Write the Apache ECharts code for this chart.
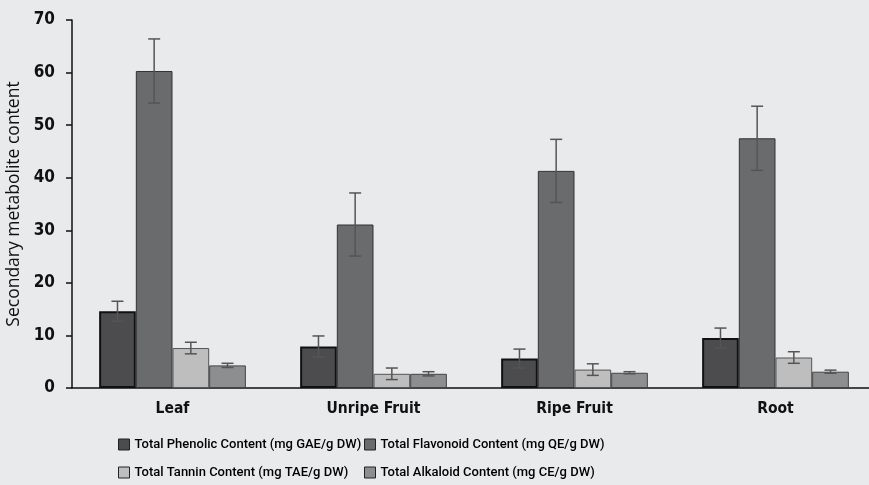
<!DOCTYPE html>
<html><head><meta charset="utf-8">
<script src="https://cdn.jsdelivr.net/npm/echarts@6/dist/echarts.min.js"></script>
<style>html,body{margin:0;padding:0;background:#e9eaec;}#c{width:869px;height:485px;}</style>
</head><body><div id="c"></div>
<script>
const categories = ['Leaf', 'Unripe Fruit', 'Ripe Fruit', 'Root'];
const seriesNames = ['Total Phenolic Content (mg GAE/g DW)', 'Total Flavonoid Content (mg QE/g DW)', 'Total Tannin Content (mg TAE/g DW)', 'Total Alkaloid Content (mg CE/g DW)'];
const phenolic = [14.6, 7.9, 5.6, 9.5];
const flavonoid = [60.3, 31.1, 41.3, 47.5];
const tannin = [7.6, 2.7, 3.5, 5.8];
const alkaloid = [4.3, 2.7, 2.9, 3.1];
const phenolicErr = [1.9, 2.0, 1.8, 1.9];
const flavonoidErr = [6.1, 6.0, 6.0, 6.1];
const tanninErr = [1.1, 1.1, 1.1, 1.1];
const alkaloidErr = [0.4, 0.4, 0.2, 0.3];
const yTicks = [0, 10, 20, 30, 40, 50, 60, 70];

const values = [phenolic, flavonoid, tannin, alkaloid];
const errs = [phenolicErr, flavonoidErr, tanninErr, alkaloidErr];
const fills = ['#4c4c4e', '#6a6b6d', '#bebebf', '#8d8e90'];
const borders = ['#111', '#333', '#555', '#444'];
const borderW = [2, 1, 1, 1];
const gapPct = 27;
const FONT = '"DejaVu Sans Condensed", "DejaVu Sans", sans-serif';

const errData = [];
values.forEach((arr, s) => arr.forEach((v, c) => errData.push([c, s, v - errs[s][c], v + errs[s][c]])));

const chart = echarts.init(document.getElementById('c'));
const barSeries = values.map((arr, s) => ({
  name: seriesNames[s], type: 'bar', data: arr,
  barGap: '0%', barCategoryGap: gapPct + '%',
  itemStyle: { color: fills[s], borderColor: borders[s], borderWidth: borderW[s] },
  z: 2
}));
const errSeries = {
  type: 'custom', z: 5, data: errData,
  renderItem: function (params, api) {
    const c = api.value(0), s = api.value(1);
    const band = api.size([1, 0])[0];
    const bw = band * (1 - gapPct / 100) / 4;
    const base = api.coord([c, 0]);
    const x = base[0] + (s - 1.5) * bw;
    const lo = api.coord([c, api.value(2)])[1];
    const hi = api.coord([c, api.value(3)])[1];
    const cap = 6;
    const st = { stroke: '#555', lineWidth: 1.5 };
    return { type: 'group', children: [
      { type: 'line', shape: { x1: x, y1: lo, x2: x, y2: hi }, style: st },
      { type: 'line', shape: { x1: x - cap, y1: lo, x2: x + cap, y2: lo }, style: st },
      { type: 'line', shape: { x1: x - cap, y1: hi, x2: x + cap, y2: hi }, style: st }
    ]};
  }
};
const legText = { fontFamily: 'Roboto', fontSize: 13, fontWeight: 500, color: '#000' };
const legCommon = { orient: 'vertical', top: 438, itemGap: 15, padding: 0, height: 46,
  icon: 'rect', itemWidth: 11, itemHeight: 11, textStyle: legText,
  itemStyle: { borderColor: '#222', borderWidth: 1 } };
chart.setOption({
  backgroundColor: '#e9eaec',
  animation: false,
  grid: { left: 72, top: 20, width: 804, height: 368, containLabel: false, outerBoundsMode: 'none' },
  legend: [
    Object.assign({ data: [seriesNames[0], seriesNames[2]], left: 118 }, legCommon),
    Object.assign({ data: [seriesNames[1], seriesNames[3]], left: 364 }, legCommon)
  ],
  xAxis: {
    type: 'category', data: categories,
    axisLine: { lineStyle: { color: '#111', width: 1.5 } },
    axisTick: { alignWithLabel: true, length: 5, lineStyle: { color: '#111', width: 1.5 } },
    axisLabel: { fontFamily: FONT, fontSize: 15.5, fontWeight: 'bold', color: '#111', margin: 13 }
  },
  yAxis: {
    type: 'value', min: yTicks[0], max: yTicks[yTicks.length - 1], interval: 10,
    name: 'Secondary metabolite content', nameLocation: 'middle', nameGap: 44,
    nameTextStyle: { fontFamily: 'Open Sans', fontSize: 17.5, color: '#111' },
    axisLine: { show: true, lineStyle: { color: '#111', width: 1.5 } },
    axisTick: { show: true, length: 6, lineStyle: { color: '#111', width: 1.5 } },
    splitLine: { show: false },
    axisLabel: { fontFamily: FONT, fontSize: 17, fontWeight: 'bold', color: '#111', margin: 17 }
  },
  series: [...barSeries, errSeries]
});
</script></body></html>
